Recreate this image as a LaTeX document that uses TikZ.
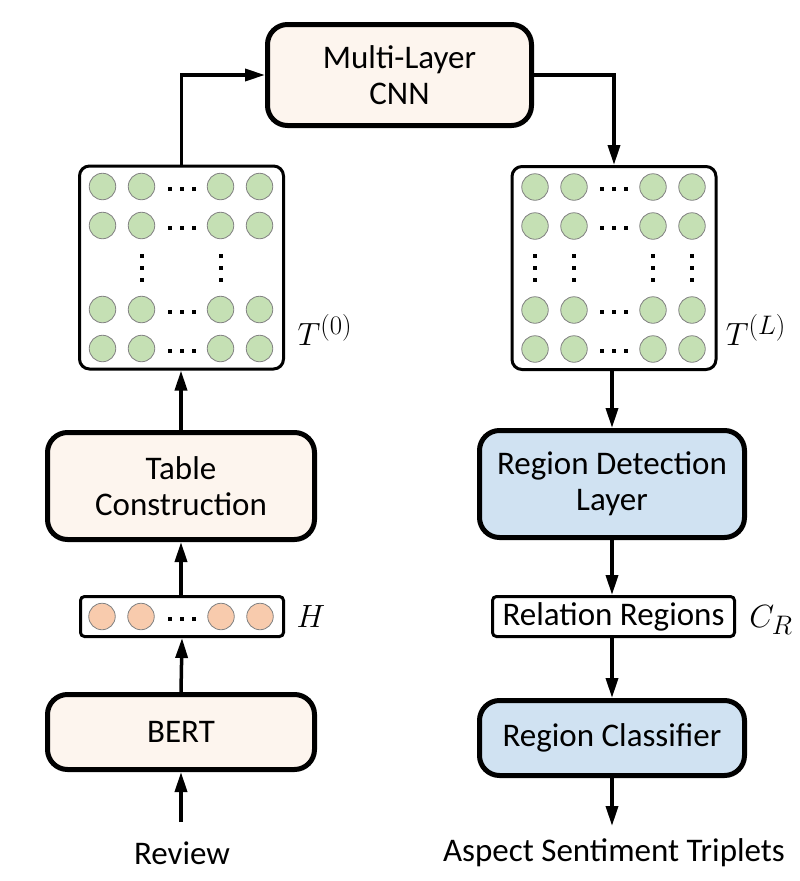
\documentclass[tikz,border=0pt]{standalone}
\usepackage{graphicx}
\usepackage[no-math]{fontspec}
\setmainfont{Carlito}
\usetikzlibrary{arrows.meta}
\definecolor{beige}{RGB}{253,245,238}
\definecolor{lblue}{RGB}{208,226,242}
\definecolor{cgreen}{RGB}{197,224,180}
\definecolor{corange}{RGB}{248,203,173}
\definecolor{cedge}{RGB}{130,130,130}
\newcommand{\bigmath}[1]{\scalebox{1.55}{\fontsize{20.74}{25}\selectfont$#1$}}
\newcommand{\supsz}[1]{\mbox{\fontsize{17.28}{20}\selectfont$#1$}}
\begin{document}
\begin{tikzpicture}[x=1pt,y=-1pt,font=\fontsize{33}{36}\selectfont,
  bigbox/.style={draw, line width=5pt, rounded corners=20pt, align=center, inner sep=0pt},
  thinbox/.style={draw, line width=3pt, rounded corners=4pt, inner sep=0pt},
  matbox/.style={draw, line width=3pt, rounded corners=10pt, inner sep=0pt, minimum width=204pt, minimum height=203pt},
  gdot/.style={circle, draw=cedge, line width=0.8pt, fill=cgreen, minimum size=26.5pt, inner sep=0pt},
  odot/.style={circle, draw=cedge, line width=0.8pt, fill=corange, minimum size=26.5pt, inner sep=0pt},
  arr/.style={-{Triangle[length=20pt,width=12pt]}, line width=3.5pt},
  mathlbl/.style={inner sep=0pt}]
\useasboundingbox (0,0) rectangle (800,881);

% main boxes
\node[bigbox, fill=beige, minimum width=264pt, minimum height=101pt] (cnn) at (399.5,75) {Multi-Layer\\CNN};
\node[bigbox, fill=beige, minimum width=267pt, minimum height=107pt] (table) at (181,486) {Table\\Construction};
\node[bigbox, fill=beige, minimum width=267pt, minimum height=75pt] (bert) at (181,732) {BERT};
\node[bigbox, fill=lblue, minimum width=265pt, minimum height=107pt] (rdl) at (612,484) {Region Detection\\Layer};
\node[bigbox, fill=lblue, minimum width=265pt, minimum height=75pt] (rc) at (612,738) {Region Classifier};

% matrices
\node[matbox] (mat0) at (181.5,267.5) {};
\node[matbox] (matL) at (614,268) {};
\foreach \r/\dy in {1/-81,2/-42,3/42,4/81}{
  \foreach \c/\dx in {1/-79,2/-40,3/39,4/78}{
    \node[gdot] (a\r\c) at ([shift={(\dx,\dy)}]mat0.center) {};
    \node[gdot] (b\r\c) at ([shift={(\dx,\dy)}]matL.center) {};
  }
  \foreach \k in {-12,0,12}{
    \fill ([shift={(\k-2,\dy)}]mat0.center) rectangle ++(4,4);
    \fill ([shift={(\k-2,\dy)}]matL.center) rectangle ++(4,4);
  }
}
\foreach \k in {-12,0,12}{
  \foreach \dx in {-40,39}{
    \fill ([shift={(\dx-2,\k-2)}]mat0.center) rectangle ++(4,4);
  }
  \foreach \dx in {-79,-40,39,78}{
    \fill ([shift={(\dx-2,\k-2)}]matL.center) rectangle ++(4,4);
  }
}
\node[mathlbl] (t0) at (325,330) {\bigmath{T^{\supsz{(0)}}}};
\node[mathlbl] (tL) at (756,330) {\bigmath{T^{\supsz{(L)}}}};

% H row
\node[thinbox, minimum width=203pt, minimum height=40pt] (hbox) at (182,616.5) {};
\foreach \c/\dx in {1/-80,2/-41,3/39,4/78}{
  \node[odot] (h\c) at ([shift={(\dx,0)}]hbox.center) {};
}
\foreach \k in {-12,0,12}{
  \fill ([shift={(\k-2,0)}]hbox.center) rectangle ++(4,4);
}
\node[mathlbl] (hl) at (311,617) {\bigmath{H}};

% relation regions
\node[thinbox, minimum width=242pt, minimum height=40pt] (rr) at (613.5,616.5) {Relation Regions};
\node[mathlbl] (cr) at (771,620) {\bigmath{C_{\supsz{R}}}};

% texts
\node (review) at (182,853) {Review};
\node (ast) at (614,853) {Aspect Sentiment Triplets};
\coordinate (revtop) at (181,822);
\coordinate (astend) at (612,826);

% arrows
\draw[arr] (revtop) -- (bert.south);
\draw[arr] (bert.north) -- (hbox.south);
\draw[arr] (hbox.north -| table.south) -- (table.south);
\draw[arr] (table.north) -- (table.north |- mat0.south);
\draw[arr] (mat0.north) |- (cnn.west);
\draw[arr] (cnn.east) -| (matL.north);
\draw[arr] (matL.south) -- (matL.south -| rdl.north) -- (rdl.north);
\draw[arr] (rdl.south) -- (rdl.south |- rr.north);
\draw[arr] (rc.north |- rr.south) -- (rc.north);
\draw[arr] (rc.south) -- (astend);
\end{tikzpicture}
\end{document}
